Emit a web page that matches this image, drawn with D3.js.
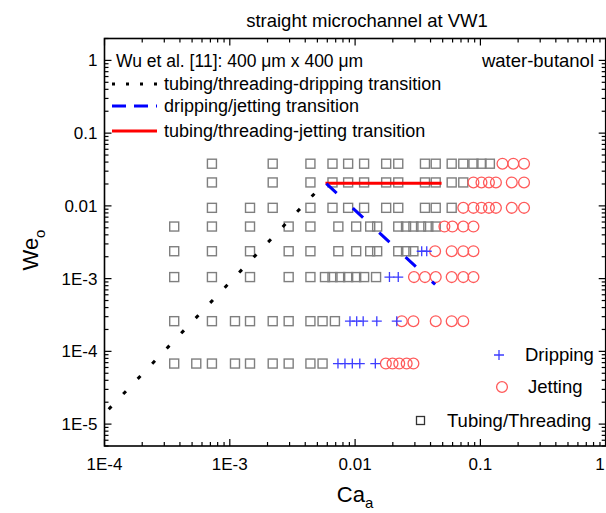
<!DOCTYPE html>
<html><head><meta charset="utf-8">
<script src="https://cdn.jsdelivr.net/npm/d3@7"></script>
<style>body{margin:0;background:#fff}svg{display:block}text{font-family:"Liberation Sans",Arial,sans-serif;fill:#000}</style>
</head><body><svg id="c" width="606" height="513"></svg>
<script>
// ---- data ----
const weLevels = [0.038, 0.021, 0.0094, 0.0052, 0.00238, 0.00105, 2.6e-4, 6.8e-5];
const tubingCa = [
  [7.2e-4, 2.2e-3, 4.4e-3, 6.6e-3, 8.8e-3, 0.0118, 0.0177, 0.0221, 0.0361, 0.044, 0.059, 0.073, 0.088, 0.102, 0.119],
  [7.2e-4, 2.2e-3, 4.4e-3, 6.6e-3, 8.8e-3, 0.0118, 0.0177, 0.0221, 0.0361, 0.044, 0.059, 0.073],
  [7.2e-4, 1.45e-3, 2.2e-3, 4.4e-3, 6.6e-3, 8.8e-3, 0.0118, 0.0177, 0.0221, 0.0361, 0.044, 0.059],
  [3.6e-4, 7.2e-4, 1.45e-3, 2.95e-3, 4.4e-3, 7.35e-3, 0.0102, 0.0132, 0.0150, 0.0221, 0.0255, 0.0292, 0.0336, 0.0384, 0.044],
  [3.6e-4, 7.2e-4, 1.45e-3, 2.95e-3, 4.4e-3, 7.35e-3, 0.0102, 0.0132, 0.0150, 0.0221, 0.0255, 0.0292],
  [3.6e-4, 7.2e-4, 1.45e-3, 2.95e-3, 4.4e-3, 5.75e-3, 6.6e-3, 7.6e-3, 8.8e-3, 0.0102, 0.0118, 0.0147],
  [3.6e-4, 7.2e-4, 1.1e-3, 1.45e-3, 2.2e-3, 2.95e-3, 4.4e-3, 5.5e-3, 6.9e-3],
  [3.6e-4, 5.4e-4, 7.2e-4, 1.1e-3, 1.45e-3, 2.2e-3, 2.95e-3, 4.4e-3, 5.5e-3]
];
const drippingCa = [
  [], [], [], [],
  [0.0340, 0.0373],
  [0.0188, 0.0221],
  [9.1e-3, 0.0103, 0.0116, 0.0149, 0.0215],
  [7.3e-3, 8.3e-3, 9.5e-3, 0.0109, 0.0145]
];
const jettingCa = [
  [0.150, 0.183, 0.223],
  [0.088, 0.102, 0.117, 0.133, 0.178, 0.223],
  [0.073, 0.088, 0.102, 0.117, 0.133, 0.178, 0.223],
  [0.0516, 0.0598, 0.073, 0.088],
  [0.0435, 0.059, 0.073, 0.088],
  [0.0295, 0.0361, 0.044, 0.059, 0.073, 0.088],
  [0.0236, 0.0292, 0.044, 0.059, 0.073],
  [0.0176, 0.0199, 0.0225, 0.0258, 0.0292]
];
const tdTransCa = [1.08e-4, 5.75e-3];
const tdTransWe = [1.6e-5, 0.0209];
const djTransCa = [5.9e-3, 0.0435];
const djTransWe = [0.0202, 8.3e-4];
const tjTransCa = [5.8e-3, 0.049];
const tjTransWe = [0.0205, 0.0205];
const xTickVals = [1e-4, 1e-3, 1e-2, 1e-1, 1];
const xTickLabels = ["1E-4", "1E-3", "0.01", "0.1", "1"];
const yTickVals = [1e-5, 1e-4, 1e-3, 1e-2, 1e-1, 1];
const yTickLabels = ["1E-5", "1E-4", "1E-3", "0.01", "0.1", "1"];

// ---- layout ----
const L = 104.5, R = 605.7, T = 38.5, B = 446;
const x = d3.scaleLog().domain([1e-4, 1]).range([L, R]);
const y = d3.scaleLog().domain([5e-6, 2]).range([B, T]);
const svg = d3.select("#c");

const sqColor = "#7f7f7f", cirColor = "#ff5a5a", crColor = "#3c3cff";
const FS = 17, FT = 18.5;

// title
svg.append("text").attr("x", 367).attr("y", 27).attr("text-anchor", "middle").attr("font-size", FT).text("straight microchannel at VW1");

// data marks
const g = svg.append("g");
function flat(arr) { const out = []; arr.forEach((row, i) => row.forEach(v => out.push([v, weLevels[i]]))); return out; }
g.selectAll(".sq").data(flat(tubingCa)).join("rect").attr("class", "sq")
  .attr("x", d => x(d[0]) - 4.5).attr("y", d => y(d[1]) - 4.5).attr("width", 9).attr("height", 9)
  .attr("fill", "none").attr("stroke", sqColor).attr("stroke-width", 1.4);
g.selectAll(".ci").data(flat(jettingCa)).join("circle").attr("class", "ci")
  .attr("cx", d => x(d[0])).attr("cy", d => y(d[1])).attr("r", 5.4)
  .attr("fill", "none").attr("stroke", cirColor).attr("stroke-width", 1.3);
g.selectAll(".cr").data(flat(drippingCa)).join("path").attr("class", "cr")
  .attr("d", d => `M${x(d[0]) - 5},${y(d[1])}h10M${x(d[0])},${y(d[1]) - 5}v10`)
  .attr("stroke", crColor).attr("stroke-width", 1.3).attr("fill", "none");

// transition lines
const line = d3.line().x(d => x(d[0])).y(d => y(d[1]));
svg.append("path").attr("d", line(tdTransCa.map((c, i) => [c, tdTransWe[i]])))
  .attr("stroke", "#000").attr("stroke-width", 3).attr("stroke-dasharray", "4,17").attr("fill", "none");
svg.append("path").attr("d", line(tjTransCa.map((c, i) => [c, tjTransWe[i]])))
  .attr("stroke", "#ff0000").attr("stroke-width", 3).attr("fill", "none");
svg.append("path").attr("d", line(djTransCa.map((c, i) => [c, djTransWe[i]])))
  .attr("stroke", "#0000ff").attr("stroke-width", 3).attr("stroke-dasharray", "14,22").attr("fill", "none");

// frame & ticks
const ax = svg.append("g").attr("stroke", "#000").attr("fill", "none");
ax.append("rect").attr("x", L).attr("y", T).attr("width", R - L).attr("height", B - T).attr("stroke-width", 1.6);
function minorTicks(dom) {
  const out = [];
  const lo = Math.floor(Math.log10(dom[0])), hi = Math.ceil(Math.log10(dom[1]));
  for (let e = lo; e <= hi; e++) for (let k = 1; k <= 9; k++) { const v = k * Math.pow(10, e); if (v >= dom[0] * 0.999 && v <= dom[1] * 1.001) out.push([v, k === 1]); }
  return out;
}
minorTicks(x.domain()).forEach(([v, maj]) => {
  const len = maj ? 7 : 4, px = x(v);
  ax.append("line").attr("x1", px).attr("x2", px).attr("y1", B).attr("y2", B - len).attr("stroke-width", 1.2);
  ax.append("line").attr("x1", px).attr("x2", px).attr("y1", T).attr("y2", T + len).attr("stroke-width", 1.2);
});
minorTicks(y.domain()).forEach(([v, maj]) => {
  const len = maj ? 7 : 4, py = y(v);
  ax.append("line").attr("y1", py).attr("y2", py).attr("x1", L).attr("x2", L + len).attr("stroke-width", 1.2);
  ax.append("line").attr("y1", py).attr("y2", py).attr("x1", R).attr("x2", R - len).attr("stroke-width", 1.2);
});
xTickVals.forEach((v, i) => svg.append("text").attr("x", Math.min(x(v), 600)).attr("y", B + 24).attr("text-anchor", "middle").attr("font-size", FS).text(xTickLabels[i]));
yTickVals.forEach((v, i) => svg.append("text").attr("x", L - 7).attr("y", y(v) + 6).attr("text-anchor", "end").attr("font-size", FS).text(yTickLabels[i]));

// axis titles
const xt = svg.append("text").attr("x", 355).attr("y", 502).attr("text-anchor", "middle").attr("font-size", 22);
xt.append("tspan").text("Ca");
xt.append("tspan").attr("font-size", 15).attr("dy", 6).text("a");
const yt = svg.append("text").attr("transform", "translate(38,250) rotate(-90)").attr("text-anchor", "middle").attr("font-size", 22);
yt.append("tspan").text("We");
yt.append("tspan").attr("font-size", 15).attr("dy", 7).text("o");

// top-left legend
svg.append("text").attr("x", 116).attr("y", 67).attr("font-size", 17.5).text("Wu et al. [11]: 400 μm x 400 μm");
svg.append("text").attr("x", 594).attr("y", 67).attr("text-anchor", "end").attr("font-size", FT).text("water-butanol");
const leg = [["#000", "3,11", "tubing/threading-dripping transition", 84],
             ["#0000ff", "14,8", "dripping/jetting transition", 106],
             ["#ff0000", null, "tubing/threading-jetting transition", 131]];
leg.forEach(([c, da, t, yy]) => {
  const p = svg.append("line").attr("x1", 112).attr("x2", 157).attr("y1", yy).attr("y2", yy).attr("stroke", c).attr("stroke-width", 3);
  if (da) p.attr("stroke-dasharray", da);
  svg.append("text").attr("x", 164).attr("y", yy + 6).attr("font-size", 18).text(t);
});

// bottom-right legend
svg.append("path").attr("d", "M494,355h10M499,350v10").attr("stroke", crColor).attr("stroke-width", 1.3);
svg.append("text").attr("x", 525).attr("y", 361).attr("font-size", FT).text("Dripping");
svg.append("circle").attr("cx", 502).attr("cy", 387).attr("r", 5.4).attr("fill", "none").attr("stroke", cirColor).attr("stroke-width", 1.3);
svg.append("text").attr("x", 528).attr("y", 393).attr("font-size", FT).text("Jetting");
svg.append("rect").attr("x", 416.5).attr("y", 416.5).attr("width", 8).attr("height", 8).attr("fill", "none").attr("stroke", "#333").attr("stroke-width", 1.3);
svg.append("text").attr("x", 447).attr("y", 427).attr("font-size", FT).text("Tubing/Threading");
</script></body></html>
